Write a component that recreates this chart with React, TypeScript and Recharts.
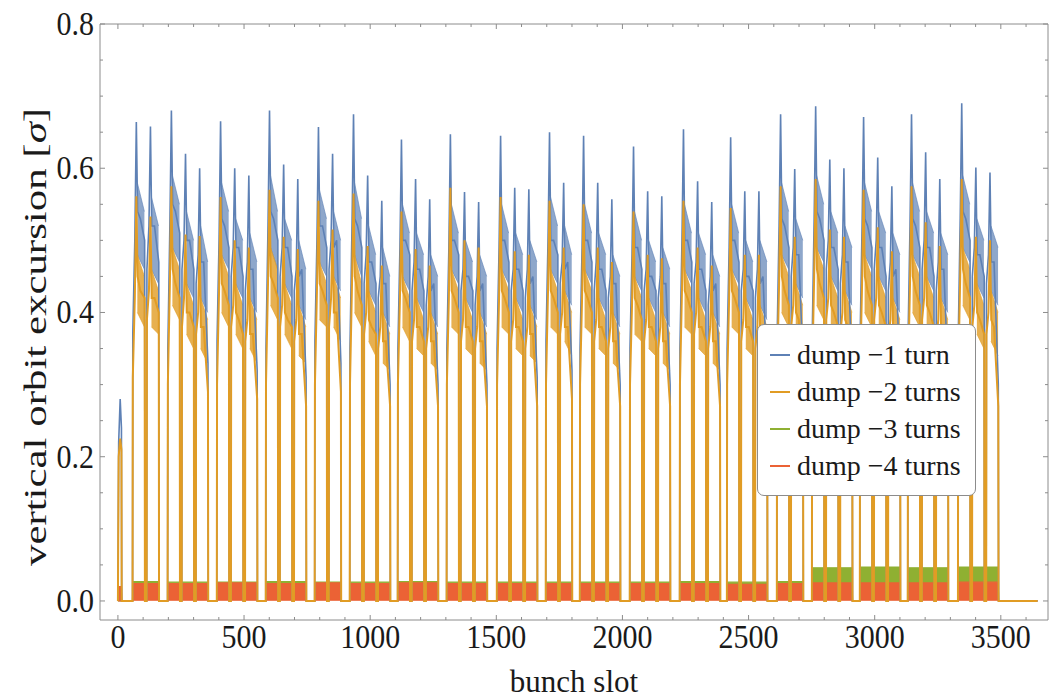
import React from "react";
import { ComposedChart, Line, Area, XAxis, YAxis } from "recharts";

const W = 1062;
const H = 698;

const BLUE = "#5E81B5";
const ORANGE = "#E19C24";
const GREEN = "#8FB032";
const RED = "#EB6235";
const FRAME = "#8c8c8c";
const FONT = "'Liberation Serif', 'Times New Roman', serif";

// filling scheme: first slot of each injection, trains per injection
const groupStart = [59, 198, 393, 587, 781, 920, 1110, 1304, 1503, 1697, 1832, 2030, 2228, 2415, 2613, 2752, 2942, 3132, 3331];
const trainsPerGroup = [2, 3, 3, 3, 2, 3, 3, 3, 3, 2, 3, 3, 3, 3, 2, 3, 3, 3, 3];
const trainPitch = 56; // 48 bunches + 8 empty slots
const trainOffsets = [0, 8, 14, 19, 30, 47];
const tailFrom = 18; // noisy tail of each train
const lastSlot = 3645;

// pilot bunches at the start
const pilotSlots = [3, 9, 14];
const pilotBlue = [0.22, 0.28, 0.24];
const pilotOrange = [0.2, 0.225, 0.21];

// per train: [first, rising, peak, after peak, middle, last]
const blueTrains = [
  [0.37, 0.5, 0.664, 0.54, 0.53, 0.5], [0.46, 0.52, 0.658, 0.52, 0.52, 0.47],
  [0.35, 0.52, 0.68, 0.55, 0.54, 0.51], [0.46, 0.5, 0.62, 0.5, 0.5, 0.46], [0.44, 0.48, 0.6, 0.47, 0.47, 0.33],
  [0.36, 0.5, 0.665, 0.53, 0.52, 0.49], [0.45, 0.49, 0.6, 0.49, 0.49, 0.45], [0.43, 0.47, 0.59, 0.46, 0.46, 0.32],
  [0.35, 0.52, 0.68, 0.54, 0.53, 0.5], [0.45, 0.49, 0.605, 0.49, 0.49, 0.45], [0.43, 0.46, 0.585, 0.45, 0.46, 0.31],
  [0.36, 0.5, 0.657, 0.52, 0.52, 0.49], [0.46, 0.5, 0.62, 0.49, 0.5, 0.33],
  [0.35, 0.52, 0.675, 0.53, 0.52, 0.49], [0.44, 0.48, 0.59, 0.47, 0.47, 0.44], [0.42, 0.45, 0.555, 0.44, 0.44, 0.3],
  [0.35, 0.49, 0.64, 0.5, 0.5, 0.48], [0.43, 0.47, 0.585, 0.46, 0.46, 0.43], [0.41, 0.45, 0.557, 0.43, 0.44, 0.3],
  [0.35, 0.49, 0.647, 0.5, 0.5, 0.48], [0.43, 0.46, 0.567, 0.45, 0.45, 0.43], [0.41, 0.45, 0.553, 0.43, 0.44, 0.3],
  [0.35, 0.49, 0.645, 0.5, 0.5, 0.47], [0.43, 0.46, 0.573, 0.46, 0.46, 0.43], [0.42, 0.46, 0.571, 0.44, 0.45, 0.31],
  [0.36, 0.5, 0.65, 0.5, 0.5, 0.48], [0.44, 0.47, 0.58, 0.46, 0.47, 0.32],
  [0.35, 0.49, 0.645, 0.5, 0.5, 0.47], [0.43, 0.47, 0.58, 0.46, 0.46, 0.43], [0.42, 0.45, 0.557, 0.44, 0.44, 0.3],
  [0.35, 0.48, 0.63, 0.49, 0.49, 0.46], [0.43, 0.46, 0.568, 0.45, 0.45, 0.43], [0.42, 0.45, 0.561, 0.44, 0.44, 0.3],
  [0.35, 0.5, 0.654, 0.5, 0.5, 0.47], [0.44, 0.47, 0.582, 0.46, 0.46, 0.43], [0.41, 0.45, 0.553, 0.43, 0.44, 0.3],
  [0.35, 0.49, 0.643, 0.5, 0.5, 0.47], [0.43, 0.46, 0.568, 0.45, 0.45, 0.43], [0.42, 0.46, 0.568, 0.44, 0.45, 0.31],
  [0.36, 0.52, 0.675, 0.53, 0.52, 0.49], [0.45, 0.49, 0.599, 0.48, 0.48, 0.33],
  [0.36, 0.53, 0.686, 0.54, 0.53, 0.5], [0.46, 0.5, 0.612, 0.49, 0.49, 0.46], [0.44, 0.48, 0.6, 0.47, 0.47, 0.32],
  [0.36, 0.52, 0.671, 0.53, 0.52, 0.49], [0.46, 0.5, 0.615, 0.49, 0.49, 0.45], [0.43, 0.47, 0.575, 0.45, 0.46, 0.31],
  [0.36, 0.52, 0.675, 0.53, 0.52, 0.49], [0.46, 0.5, 0.622, 0.49, 0.49, 0.45], [0.43, 0.47, 0.585, 0.46, 0.46, 0.31],
  [0.36, 0.53, 0.69, 0.54, 0.53, 0.5], [0.45, 0.49, 0.601, 0.48, 0.48, 0.45], [0.44, 0.48, 0.594, 0.47, 0.47, 0.3],
];

const orangeTrains = [
  [0.31, 0.42, 0.561, 0.45, 0.43, 0.42], [0.39, 0.43, 0.533, 0.42, 0.42, 0.4],
  [0.3, 0.44, 0.575, 0.46, 0.44, 0.42], [0.38, 0.42, 0.508, 0.4, 0.4, 0.38], [0.37, 0.4, 0.506, 0.38, 0.38, 0.29],
  [0.3, 0.43, 0.56, 0.44, 0.43, 0.41], [0.38, 0.41, 0.5, 0.4, 0.39, 0.37], [0.36, 0.39, 0.49, 0.37, 0.37, 0.28],
  [0.3, 0.44, 0.57, 0.45, 0.44, 0.42], [0.38, 0.41, 0.505, 0.4, 0.39, 0.38], [0.36, 0.39, 0.488, 0.37, 0.37, 0.27],
  [0.3, 0.43, 0.555, 0.44, 0.43, 0.41], [0.38, 0.42, 0.515, 0.4, 0.4, 0.29],
  [0.3, 0.44, 0.565, 0.45, 0.43, 0.41], [0.37, 0.4, 0.492, 0.39, 0.38, 0.37], [0.35, 0.38, 0.465, 0.36, 0.36, 0.27],
  [0.3, 0.42, 0.54, 0.43, 0.42, 0.4], [0.36, 0.39, 0.488, 0.38, 0.38, 0.36], [0.35, 0.38, 0.465, 0.36, 0.36, 0.27],
  [0.3, 0.42, 0.573, 0.43, 0.42, 0.4], [0.36, 0.39, 0.5, 0.38, 0.38, 0.36], [0.35, 0.38, 0.49, 0.36, 0.36, 0.27],
  [0.3, 0.42, 0.56, 0.43, 0.42, 0.4], [0.36, 0.39, 0.485, 0.38, 0.38, 0.36], [0.35, 0.38, 0.48, 0.37, 0.37, 0.27],
  [0.3, 0.43, 0.555, 0.43, 0.42, 0.4], [0.37, 0.4, 0.49, 0.38, 0.38, 0.28],
  [0.3, 0.42, 0.55, 0.43, 0.42, 0.4], [0.36, 0.39, 0.49, 0.38, 0.38, 0.36], [0.35, 0.38, 0.47, 0.36, 0.36, 0.27],
  [0.3, 0.41, 0.54, 0.42, 0.41, 0.39], [0.36, 0.39, 0.48, 0.38, 0.38, 0.36], [0.35, 0.38, 0.475, 0.36, 0.36, 0.27],
  [0.3, 0.43, 0.555, 0.43, 0.42, 0.4], [0.37, 0.4, 0.49, 0.38, 0.38, 0.36], [0.35, 0.38, 0.465, 0.36, 0.36, 0.27],
  [0.3, 0.42, 0.545, 0.43, 0.42, 0.4], [0.36, 0.39, 0.48, 0.38, 0.38, 0.36], [0.35, 0.38, 0.48, 0.37, 0.37, 0.27],
  [0.31, 0.44, 0.575, 0.45, 0.43, 0.41], [0.38, 0.41, 0.505, 0.4, 0.39, 0.29],
  [0.31, 0.45, 0.585, 0.46, 0.44, 0.42], [0.39, 0.42, 0.515, 0.41, 0.4, 0.38], [0.37, 0.4, 0.505, 0.39, 0.38, 0.28],
  [0.31, 0.44, 0.57, 0.45, 0.43, 0.41], [0.39, 0.42, 0.518, 0.41, 0.4, 0.38], [0.36, 0.39, 0.485, 0.37, 0.37, 0.27],
  [0.31, 0.44, 0.575, 0.45, 0.43, 0.41], [0.39, 0.42, 0.525, 0.41, 0.4, 0.38], [0.36, 0.39, 0.492, 0.38, 0.38, 0.27],
  [0.31, 0.45, 0.585, 0.46, 0.44, 0.42], [0.38, 0.41, 0.505, 0.4, 0.39, 0.37], [0.37, 0.4, 0.5, 0.39, 0.38, 0.27],
];

// spread of the bunch-to-bunch noise over each train tail:
// [low, high] where the tail starts, then [low, high] at the train end
const blueTail = [
  [0.48, 0.58, 0.46, 0.54], [0.46, 0.56, 0.44, 0.52],
  [0.49, 0.59, 0.47, 0.55], [0.44, 0.54, 0.42, 0.5], [0.42, 0.52, 0.4, 0.47],
  [0.48, 0.58, 0.46, 0.54], [0.44, 0.53, 0.42, 0.5], [0.42, 0.51, 0.4, 0.47],
  [0.49, 0.59, 0.46, 0.54], [0.44, 0.53, 0.42, 0.5], [0.41, 0.5, 0.39, 0.46],
  [0.47, 0.57, 0.45, 0.53], [0.45, 0.54, 0.43, 0.5],
  [0.48, 0.58, 0.45, 0.53], [0.43, 0.52, 0.41, 0.48], [0.4, 0.49, 0.38, 0.45],
  [0.45, 0.55, 0.43, 0.51], [0.42, 0.51, 0.4, 0.48], [0.4, 0.48, 0.38, 0.45],
  [0.46, 0.55, 0.44, 0.51], [0.42, 0.5, 0.4, 0.47], [0.4, 0.48, 0.38, 0.45],
  [0.46, 0.55, 0.44, 0.51], [0.42, 0.51, 0.4, 0.48], [0.41, 0.5, 0.39, 0.47],
  [0.46, 0.56, 0.44, 0.52], [0.43, 0.52, 0.41, 0.48],
  [0.46, 0.55, 0.44, 0.51], [0.42, 0.51, 0.4, 0.48], [0.4, 0.48, 0.38, 0.45],
  [0.45, 0.54, 0.43, 0.5], [0.42, 0.5, 0.4, 0.47], [0.4, 0.49, 0.38, 0.46],
  [0.46, 0.55, 0.44, 0.51], [0.42, 0.51, 0.4, 0.48], [0.4, 0.48, 0.38, 0.45],
  [0.46, 0.55, 0.44, 0.51], [0.42, 0.5, 0.4, 0.47], [0.41, 0.5, 0.39, 0.47],
  [0.48, 0.58, 0.46, 0.54], [0.44, 0.53, 0.42, 0.5],
  [0.49, 0.59, 0.47, 0.55], [0.45, 0.54, 0.43, 0.51], [0.43, 0.52, 0.41, 0.49],
  [0.48, 0.58, 0.46, 0.54], [0.45, 0.54, 0.43, 0.51], [0.42, 0.51, 0.4, 0.48],
  [0.48, 0.58, 0.46, 0.54], [0.45, 0.54, 0.43, 0.51], [0.42, 0.51, 0.4, 0.48],
  [0.49, 0.59, 0.47, 0.55], [0.44, 0.53, 0.42, 0.5], [0.43, 0.52, 0.41, 0.49],
];

const orangeTail = [
  [0.4, 0.48, 0.38, 0.45], [0.38, 0.46, 0.37, 0.43],
  [0.41, 0.49, 0.39, 0.46], [0.37, 0.44, 0.35, 0.41], [0.35, 0.42, 0.33, 0.39],
  [0.4, 0.48, 0.38, 0.45], [0.37, 0.44, 0.35, 0.41], [0.35, 0.42, 0.33, 0.39],
  [0.41, 0.49, 0.39, 0.46], [0.37, 0.44, 0.35, 0.41], [0.34, 0.41, 0.33, 0.38],
  [0.39, 0.47, 0.38, 0.44], [0.38, 0.45, 0.36, 0.42],
  [0.4, 0.48, 0.38, 0.44], [0.36, 0.43, 0.34, 0.4], [0.33, 0.4, 0.32, 0.37],
  [0.38, 0.45, 0.36, 0.42], [0.35, 0.42, 0.34, 0.39], [0.33, 0.4, 0.32, 0.37],
  [0.38, 0.46, 0.37, 0.43], [0.35, 0.42, 0.34, 0.39], [0.33, 0.4, 0.32, 0.37],
  [0.38, 0.46, 0.37, 0.43], [0.35, 0.42, 0.34, 0.39], [0.34, 0.41, 0.33, 0.38],
  [0.38, 0.46, 0.37, 0.43], [0.36, 0.43, 0.34, 0.4],
  [0.38, 0.46, 0.37, 0.43], [0.35, 0.42, 0.34, 0.39], [0.33, 0.4, 0.32, 0.37],
  [0.37, 0.45, 0.36, 0.42], [0.35, 0.42, 0.34, 0.39], [0.33, 0.4, 0.32, 0.37],
  [0.38, 0.46, 0.37, 0.43], [0.35, 0.42, 0.34, 0.39], [0.33, 0.4, 0.32, 0.37],
  [0.38, 0.46, 0.37, 0.43], [0.35, 0.42, 0.34, 0.39], [0.34, 0.41, 0.33, 0.38],
  [0.4, 0.48, 0.38, 0.45], [0.37, 0.44, 0.35, 0.41],
  [0.41, 0.49, 0.39, 0.46], [0.37, 0.45, 0.36, 0.42], [0.36, 0.43, 0.34, 0.4],
  [0.4, 0.48, 0.38, 0.45], [0.37, 0.45, 0.36, 0.42], [0.35, 0.42, 0.33, 0.39],
  [0.4, 0.48, 0.38, 0.45], [0.37, 0.45, 0.36, 0.42], [0.35, 0.42, 0.33, 0.39],
  [0.41, 0.49, 0.39, 0.46], [0.37, 0.44, 0.35, 0.41], [0.36, 0.43, 0.34, 0.4],
];

// dump -3 / -4 turns stay in the noise: [low, high] envelope per injection
const pilotGreen = [0.0, 0.012];
const pilotRed = [0.0, 0.02];
const greenBands = [
  [0.003, 0.027], [0.003, 0.026], [0.003, 0.026], [0.003, 0.027], [0.003, 0.026],
  [0.003, 0.026], [0.003, 0.027], [0.003, 0.026], [0.003, 0.026], [0.003, 0.026],
  [0.003, 0.026], [0.003, 0.026], [0.003, 0.027], [0.003, 0.026], [0.003, 0.027],
  [0.024, 0.046], [0.025, 0.047], [0.024, 0.046], [0.026, 0.047],
];
const redBands = [
  [0.001, 0.024], [0.001, 0.024], [0.001, 0.025], [0.001, 0.024], [0.001, 0.025],
  [0.001, 0.024], [0.001, 0.025], [0.001, 0.024], [0.001, 0.024], [0.001, 0.024],
  [0.001, 0.024], [0.001, 0.024], [0.001, 0.024], [0.001, 0.023], [0.001, 0.024],
  [0.001, 0.025], [0.001, 0.025], [0.001, 0.025], [0.001, 0.026],
];

const xMajor = [0, 500, 1000, 1500, 2000, 2500, 3000, 3500];
const xTicks = Array.from({ length: 37 }, (_, i) => i * 100);
const yMajor = [0, 0.2, 0.4, 0.6, 0.8];
const yTicks = Array.from({ length: 17 }, (_, i) => Math.round(i * 5) / 100);

type Pt = { x: number; y: number };
type Band = { x: number; v: number[] | null };

const starts: number[] = [];
groupStart.forEach((g, gi) => {
  for (let k = 0; k < trainsPerGroup[gi]; k++) starts.push(g + k * trainPitch);
});

function buildLine(pilot: number[], trains: number[][]): Pt[] {
  const pts: Pt[] = [{ x: 0, y: 0 }];
  pilotSlots.forEach((s, i) => pts.push({ x: s, y: pilot[i] }));
  pts.push({ x: pilotSlots[pilotSlots.length - 1] + 1, y: 0 });
  starts.forEach((s, t) => {
    pts.push({ x: s - 1, y: 0 });
    trainOffsets.forEach((o, j) => pts.push({ x: s + o, y: trains[t][j] }));
    pts.push({ x: s + 48, y: 0 });
  });
  pts.push({ x: lastSlot, y: 0 });
  return pts;
}

function buildTail(tail: number[][]): Band[] {
  const pts: Band[] = [];
  starts.forEach((s, t) => {
    const [lo0, hi0, lo1, hi1] = tail[t];
    pts.push({ x: s + tailFrom, v: [lo0, hi0] }, { x: s + 46, v: [lo1, hi1] }, { x: s + 47, v: null });
  });
  return pts;
}

function buildBand(pilot: number[], bands: number[][]): Band[] {
  const first = pilotSlots[0];
  const last = pilotSlots[pilotSlots.length - 1];
  const pts: Band[] = [
    { x: 0, v: [0, 0] },
    { x: first, v: pilot },
    { x: last, v: pilot },
    { x: last + 1, v: [0, 0] },
  ];
  groupStart.forEach((g, gi) => {
    const end = g + (trainsPerGroup[gi] - 1) * trainPitch + 47;
    pts.push({ x: g - 1, v: [0, 0] }, { x: g, v: bands[gi] }, { x: end, v: bands[gi] }, { x: end + 1, v: [0, 0] });
  });
  pts.push({ x: lastSlot, v: [0, 0] });
  return pts;
}

const blueData = buildLine(pilotBlue, blueTrains);
const orangeData = buildLine(pilotOrange, orangeTrains);
const blueTailData = buildTail(blueTail);
const orangeTailData = buildTail(orangeTail);
const greenData = buildBand(pilotGreen, greenBands);
const redData = buildBand(pilotRed, redBands);

const BottomTick = (p: any) => {
  const major = xMajor.includes(p.payload.value);
  return (
    <g>
      <line x1={p.x} x2={p.x} y1={p.y} y2={p.y - (major ? 5 : 3)} stroke={FRAME} strokeWidth={1} />
      {major && (
        <text transform={`translate(${p.x},${p.y + 28}) scale(1,1.12)`} textAnchor="middle"
          fontFamily={FONT} fontSize={30} fill="#1a1a1a">
          {p.payload.value}
        </text>
      )}
    </g>
  );
};

const TopTick = (p: any) => {
  const major = xMajor.includes(p.payload.value);
  return <line x1={p.x} x2={p.x} y1={p.y} y2={p.y + (major ? 5 : 3)} stroke={FRAME} strokeWidth={1} />;
};

const LeftTick = (p: any) => {
  const v = p.payload.value;
  const major = yMajor.some((m) => Math.abs(m - v) < 1e-6);
  return (
    <g>
      <line x1={p.x} x2={p.x + (major ? 5 : 3)} y1={p.y} y2={p.y} stroke={FRAME} strokeWidth={1} />
      {major && (
        <text transform={`translate(${p.x - 6},${p.y + 11}) scale(1,1.12)`} textAnchor="end"
          fontFamily={FONT} fontSize={30} fill="#1a1a1a">
          {v.toFixed(1)}
        </text>
      )}
    </g>
  );
};

const RightTick = (p: any) => {
  const v = p.payload.value;
  const major = yMajor.some((m) => Math.abs(m - v) < 1e-6);
  return <line x1={p.x} x2={p.x - (major ? 5 : 3)} y1={p.y} y2={p.y} stroke={FRAME} strokeWidth={1} />;
};

const legendItems = [
  { label: "dump \u22121 turn", color: BLUE },
  { label: "dump \u22122 turns", color: ORANGE },
  { label: "dump \u22123 turns", color: GREEN },
  { label: "dump \u22124 turns", color: RED },
];

export default function App() {
  const xDomain = [-71, 3687];
  const yDomain = [-0.0264, 0.8];
  return (
    <div style={{ position: "absolute", left: 0, top: 0, width: W, height: H, background: "#fff", fontFamily: FONT }}>
      <ComposedChart width={W} height={H} margin={{ top: 0, right: 0, bottom: 0, left: 0 }}>
        <XAxis xAxisId="b" type="number" dataKey="x" domain={xDomain} ticks={xTicks} interval={0}
          allowDataOverflow height={78} stroke={FRAME} tickSize={0} tickMargin={0} tick={BottomTick} />
        <XAxis xAxisId="t" orientation="top" type="number" dataKey="x" domain={xDomain} ticks={xTicks} interval={0}
          allowDataOverflow height={24} stroke={FRAME} tickSize={0} tickMargin={0} tick={TopTick} />
        <YAxis yAxisId="l" type="number" domain={yDomain} ticks={yTicks} interval={0}
          allowDataOverflow width={100} stroke={FRAME} tickSize={0} tickMargin={0} tick={LeftTick} />
        <YAxis yAxisId="r" orientation="right" type="number" domain={yDomain} ticks={yTicks} interval={0}
          allowDataOverflow width={14} stroke={FRAME} tickSize={0} tickMargin={0} tick={RightTick} />
        <Area xAxisId="b" yAxisId="l" data={blueTailData} dataKey="v" type="linear" stroke={BLUE}
          strokeWidth={1} strokeOpacity={0.6} fill={BLUE} fillOpacity={0.7} isAnimationActive={false} />
        <Line xAxisId="b" yAxisId="l" data={blueData} dataKey="y" type="linear" stroke={BLUE}
          strokeWidth={1.6} dot={false} isAnimationActive={false} />
        <Area xAxisId="b" yAxisId="l" data={orangeTailData} dataKey="v" type="linear" stroke={ORANGE}
          strokeWidth={1} strokeOpacity={0.6} fill={ORANGE} fillOpacity={0.8} isAnimationActive={false} />
        <Line xAxisId="b" yAxisId="l" data={orangeData} dataKey="y" type="linear" stroke={ORANGE}
          strokeWidth={2} dot={false} isAnimationActive={false} />
        <Area xAxisId="b" yAxisId="l" data={greenData} dataKey="v" type="linear" stroke={GREEN}
          strokeWidth={1.2} fill={GREEN} fillOpacity={1} isAnimationActive={false} />
        <Area xAxisId="b" yAxisId="l" data={redData} dataKey="v" type="linear" stroke={RED}
          strokeWidth={1.2} fill={RED} fillOpacity={1} isAnimationActive={false} />
      </ComposedChart>

      <div style={{ position: "absolute", left: 100, top: 664, width: 948, textAlign: "center",
        fontSize: 31, color: "#1a1a1a", lineHeight: "36px" }}>
        bunch slot
      </div>

      <div style={{ position: "absolute", left: 35, top: 337,
        transform: "translate(-50%, -50%) rotate(-90deg) scale(1.34, 1)",
        whiteSpace: "nowrap", fontSize: 32, color: "#1a1a1a", lineHeight: "36px" }}>
        vertical orbit excursion [<i>σ</i>]
      </div>

      <div style={{ position: "absolute", left: 757, top: 324, width: 219, height: 172, background: "#fff",
        border: `1.5px solid ${FRAME}`, borderRadius: 7, boxSizing: "border-box", paddingTop: 11 }}>
        {legendItems.map((it) => (
          <div key={it.label} style={{ display: "flex", alignItems: "center", height: 37 }}>
            <div style={{ width: 20, height: 2, background: it.color, marginLeft: 12, marginRight: 7, flexShrink: 0 }} />
            <span style={{ fontSize: 28, color: "#1a1a1a", whiteSpace: "nowrap" }}>{it.label}</span>
          </div>
        ))}
      </div>
    </div>
  );
}
